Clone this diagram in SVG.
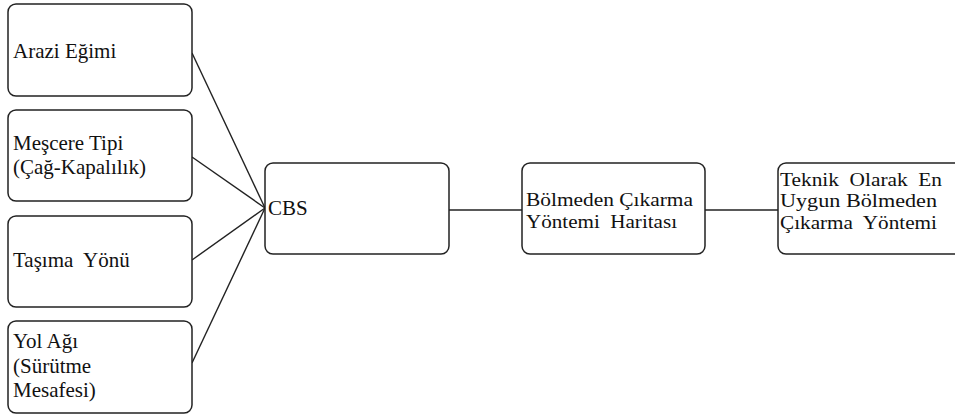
<svg xmlns="http://www.w3.org/2000/svg" width="955" height="414" viewBox="0 0 955 414">
<style>
.box{fill:#fff;stroke:#222;stroke-width:1.5}
.t{font-family:"Liberation Serif","Times New Roman",serif;font-size:21px;fill:#111}
.s{font-family:"Liberation Serif","Times New Roman",serif;font-size:19px;fill:#111}
.c{stroke:#222;stroke-width:1.4;fill:none}
</style>
<rect width="955" height="414" fill="#fff"/>
<g id="connectors">
<line class="c" x1="192" y1="53" x2="265" y2="208"/>
<line class="c" x1="192" y1="157" x2="265" y2="208"/>
<line class="c" x1="192" y1="260" x2="265" y2="208"/>
<line class="c" x1="192" y1="363" x2="265" y2="208"/>
<line class="c" x1="449" y1="210" x2="522" y2="210"/>
<line class="c" x1="705" y1="210" x2="778" y2="210"/>
</g>
<g id="arazi">
<rect class="box" x="8" y="4" width="184" height="92" rx="8"/>
<text class="t" x="13" y="58">Arazi Eğimi</text>
</g>
<g id="mescere">
<rect class="box" x="8" y="110" width="184" height="91" rx="8"/>
<text class="t" x="13" y="150">Meşcere Tipi</text>
<text class="t" x="13" y="174">(Çağ-Kapalılık)</text>
</g>
<g id="tasima">
<rect class="box" x="8" y="216" width="184" height="91" rx="8"/>
<text class="t" x="13" y="267" xml:space="preserve">Taşıma  Yönü</text>
</g>
<g id="yol">
<rect class="box" x="8" y="321" width="184" height="92" rx="8"/>
<text class="t" x="13" y="348">Yol Ağı</text>
<text class="t" x="13" y="373">(Sürütme</text>
<text class="t" x="13" y="397">Mesafesi)</text>
</g>
<g id="cbs">
<rect class="box" x="265" y="163" width="184" height="91" rx="8"/>
<text class="t" x="268" y="215">CBS</text>
</g>
<g id="harita">
<rect class="box" x="522" y="163" width="183" height="91" rx="8"/>
<text class="s" x="526" y="206" textLength="167" lengthAdjust="spacingAndGlyphs">Bölmeden Çıkarma</text>
<text class="s" x="526" y="228" textLength="151" lengthAdjust="spacingAndGlyphs" xml:space="preserve">Yöntemi  Haritası</text>
</g>
<g id="teknik">
<rect class="box" x="778" y="163" width="190" height="91" rx="8"/>
<text class="s" x="780" y="186" textLength="162" lengthAdjust="spacingAndGlyphs" xml:space="preserve">Teknik  Olarak  En</text>
<text class="s" x="780" y="207" textLength="157" lengthAdjust="spacingAndGlyphs">Uygun Bölmeden</text>
<text class="s" x="780" y="229" textLength="157" lengthAdjust="spacingAndGlyphs" xml:space="preserve">Çıkarma  Yöntemi</text>
</g>
</svg>
